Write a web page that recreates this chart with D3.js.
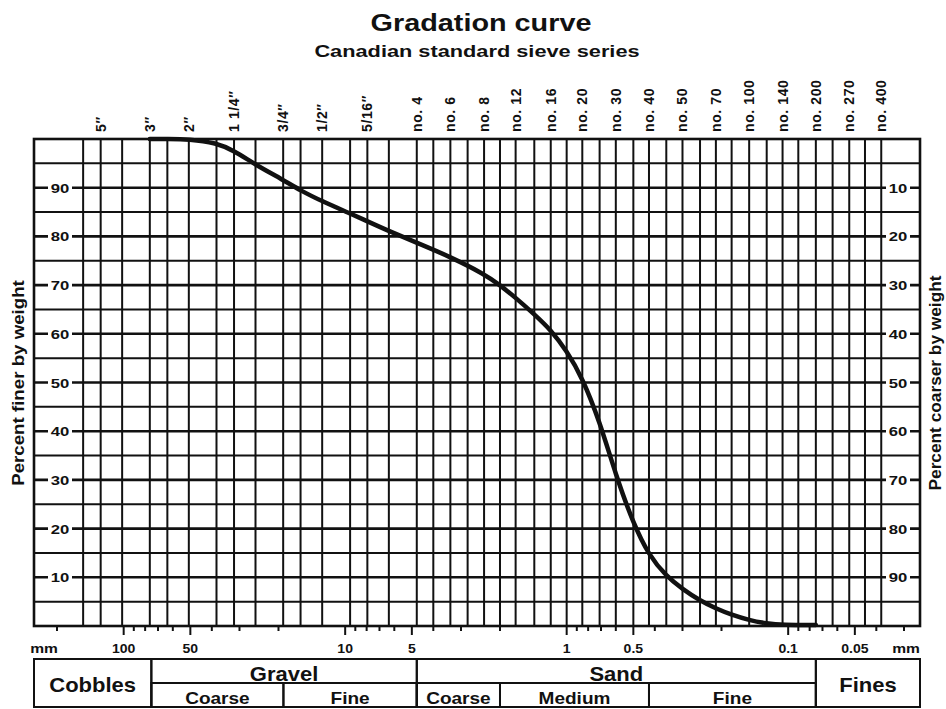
<!DOCTYPE html>
<html>
<head>
<meta charset="utf-8">
<script src="https://cdn.jsdelivr.net/npm/d3@7"></script>
<style>
    body { margin: 0; background: #fff; }
    #chart { width: 946px; height: 709px; }
    text { font-family: "Liberation Sans", Arial, sans-serif; fill: #111; font-weight: bold; }
</style>
</head>
<body>
<div id="chart"></div>
<script>

// every sieve in the series, one vertical grid line each (mm)
let sieveSizes = [152.4, 127, 101.6, 76.2, 63.5, 50.8, 38.1, 31.75, 25.4, 19.05, 15.9, 12.7, 9.5, 7.94, 6.35,
    4.75, 4.0, 3.35, 2.8, 2.36, 2.0, 1.7, 1.4, 1.18, 1.0, 0.85, 0.71, 0.6, 0.5, 0.425, 0.355, 0.3, 0.25,
    0.212, 0.18, 0.15, 0.125, 0.106, 0.09, 0.075, 0.063, 0.053, 0.045, 0.038];

// sieves that get a name on top
let sieveLabels = ['5″', '3″', '2″', '1 1/4″', '3/4″', '1/2″', '5/16″', 'no. 4', 'no. 6', 'no. 8', 'no. 12',
    'no. 16', 'no. 20', 'no. 30', 'no. 40', 'no. 50', 'no. 70', 'no. 100', 'no. 140', 'no. 200', 'no. 270', 'no. 400'];
let sieveLabelSizes = [127, 76.2, 50.8, 31.75, 19.05, 12.7, 7.94, 4.75, 3.35, 2.36, 1.7,
    1.18, 0.85, 0.6, 0.425, 0.3, 0.212, 0.15, 0.106, 0.075, 0.053, 0.038];

// grain size curve (mm, percent finer)
let curveSizes = [76.2, 63.5, 50.8, 38.1, 31.75, 25.4, 19.05, 15.9, 12.7, 9.5, 7.94, 6.35, 4.75, 3.35, 2.36, 2.0,
    1.7, 1.4, 1.18, 1.0, 0.85, 0.71, 0.6, 0.5, 0.425, 0.355, 0.3, 0.25, 0.212, 0.18, 0.15, 0.125, 0.106, 0.075];
let curvePercent = [100, 100, 100, 99.2, 97.6, 94.7, 91.6, 89.4, 87.2, 84.7, 83.1, 81.1, 78.7, 75.8, 72.3, 70,
    67.4, 64, 60.8, 56.5, 51, 42, 31, 21, 14.5, 10.2, 7.6, 5.2, 3.6, 2.3, 1.2, 0.5, 0.2, 0.2];

// axis ticks
let percentTicks = [10, 20, 30, 40, 50, 60, 70, 80, 90];
let mmLabels = [100, 50, 10, 5, 1, 0.5, 0.1, 0.05];

// soil classes under the chart
let mainClasses = ['Cobbles', 'Gravel', 'Sand', 'Fines'];
let mainBounds = [[254, 75], [75, 4.75], [4.75, 0.075], [0.075, 0.0254]];
let subClasses = ['Coarse', 'Fine', 'Coarse', 'Medium', 'Fine'];
let subBounds = [[75, 19], [19, 4.75], [4.75, 2.0], [2.0, 0.425], [0.425, 0.075]];


class GradationChart {

    constructor(parentElement) {
        this.parentElement = parentElement;
        this.initVis();
    }

    initVis() {
        let vis = this;

        vis.width = 946;
        vis.height = 709;
        vis.plot = {left: 34, right: 920, top: 139, bottom: 626};
        vis.ink = '#111';

        // init drawing area
        vis.svg = d3.select('#' + vis.parentElement).append('svg')
            .attr('width', vis.width)
            .attr('height', vis.height);

        // grain size runs big -> small from left to right
        vis.x = d3.scaleLog()
            .domain([254, 0.0254])
            .range([vis.plot.left, vis.plot.right]);

        vis.y = d3.scaleLinear()
            .domain([0, 100])
            .range([vis.plot.bottom, vis.plot.top]);

        vis.drawTitles();
        vis.drawGrid();
        vis.drawCurve();
        vis.drawAxes();
        vis.drawClasses();
    }

    // the printed lettering is wide, so stretch it sideways
    wide(sel, x, y, sx, size) {
        return sel
            .attr('transform', `translate(${x}, ${y}) scale(${sx}, 1)`)
            .attr('text-anchor', 'middle')
            .style('font-size', size + 'px');
    }

    drawTitles() {
        let vis = this;

        vis.wide(vis.svg.append('text'), 481, 31, 1.2, 24)
            .text('Gradation curve');

        vis.wide(vis.svg.append('text'), 477, 57, 1.28, 17)
            .text('Canadian standard sieve series');

        // sieve names, written upwards
        vis.svg.append('g').selectAll('text')
            .data(sieveLabels)
            .enter()
            .append('text')
            .attr('transform', (d, i) => `translate(${vis.x(sieveLabelSizes[i]) + 5}, 132) rotate(-90)`)
            .style('font-size', '14px')
            .style('letter-spacing', '0.6px')
            .text(d => d);

        vis.svg.append('text')
            .attr('transform', `translate(24, 383) rotate(-90) scale(1.1, 1)`)
            .attr('text-anchor', 'middle')
            .style('font-size', '17px')
            .text('Percent finer by weight');

        vis.svg.append('text')
            .attr('transform', `translate(941, 383) rotate(-90) scale(1.08, 1)`)
            .attr('text-anchor', 'middle')
            .style('font-size', '16px')
            .text('Percent coarser by weight');
    }

    drawGrid() {
        let vis = this;

        let grid = vis.svg.append('g').attr('class', 'grid');

        // horizontal lines every 5 percent
        grid.selectAll('line.h')
            .data(d3.range(5, 100, 5))
            .enter()
            .append('line')
            .attr('class', 'h')
            .attr('x1', vis.plot.left).attr('x2', vis.plot.right)
            .attr('y1', d => vis.y(d)).attr('y2', d => vis.y(d))
            .attr('stroke', vis.ink)
            .attr('stroke-width', d => d % 10 === 0 ? 2.6 : 2);

        // one line per sieve
        grid.selectAll('line.v')
            .data(sieveSizes)
            .enter()
            .append('line')
            .attr('class', 'v')
            .attr('x1', d => vis.x(d)).attr('x2', d => vis.x(d))
            .attr('y1', vis.plot.top).attr('y2', vis.plot.bottom)
            .attr('stroke', vis.ink)
            .attr('stroke-width', 2);

        // percent labels sit on the lines
        let labelLeft = vis.svg.append('g');
        let labelRight = vis.svg.append('g');

        [[labelLeft, 60, d => d], [labelRight, 898, d => 100 - d]].forEach(([g, cx, txt]) => {
            g.selectAll('rect')
                .data(percentTicks)
                .enter()
                .append('rect')
                .attr('x', cx - 12).attr('y', d => vis.y(d) - 7)
                .attr('width', 24).attr('height', 14)
                .attr('fill', '#fff');

            g.selectAll('text')
                .data(percentTicks)
                .enter()
                .append('text')
                .each(function (d) {
                    vis.wide(d3.select(this), cx, vis.y(d) + 5, 1.28, 13).text(txt(d));
                });
        });

        vis.svg.append('rect')
            .attr('x', vis.plot.left).attr('y', vis.plot.top)
            .attr('width', vis.plot.right - vis.plot.left)
            .attr('height', vis.plot.bottom - vis.plot.top)
            .attr('fill', 'none')
            .attr('stroke', vis.ink)
            .attr('stroke-width', 2.6);
    }

    drawCurve() {
        let vis = this;

        // b-spline through the sieve readings keeps the hand drawn look
        let line = d3.line()
            .x(d => vis.x(d[0]))
            .y(d => vis.y(d[1]))
            .curve(d3.curveBasis);

        vis.svg.append('path')
            .datum(curveSizes.map((s, i) => [s, curvePercent[i]]))
            .attr('d', line)
            .attr('fill', 'none')
            .attr('stroke', vis.ink)
            .attr('stroke-width', 4.5)
            .attr('stroke-linecap', 'round');
    }

    drawAxes() {
        let vis = this;

        // log ticks under the grid, long ones carry a label
        let minor = vis.x.ticks().filter(d => d <= 200 && d >= 0.03);

        vis.svg.append('g').selectAll('line')
            .data(minor)
            .enter()
            .append('line')
            .attr('x1', d => vis.x(d)).attr('x2', d => vis.x(d))
            .attr('y1', vis.plot.bottom)
            .attr('y2', d => vis.plot.bottom + (mmLabels.includes(+d.toPrecision(3)) ? 9 : 5))
            .attr('stroke', vis.ink)
            .attr('stroke-width', 2);

        vis.svg.append('g').selectAll('text')
            .data(mmLabels)
            .enter()
            .append('text')
            .each(function (d) {
                vis.wide(d3.select(this), vis.x(d), 653, 1.08, 13).text(d);
            });

        [44, 906].forEach(px => {
            vis.wide(vis.svg.append('text'), px, 653, 1.2, 13).text('mm');
        });
    }

    drawClasses() {
        let vis = this;

        let top = 659, mid = 683, bottom = 707;
        let table = vis.svg.append('g').attr('class', 'classes');

        // big cells; gravel and sand are split in two rows
        table.selectAll('rect.main')
            .data(mainClasses)
            .enter()
            .append('rect')
            .attr('class', 'main')
            .attr('x', (d, i) => vis.x(mainBounds[i][0]))
            .attr('y', top)
            .attr('width', (d, i) => vis.x(mainBounds[i][1]) - vis.x(mainBounds[i][0]))
            .attr('height', bottom - top)
            .attr('fill', 'none')
            .attr('stroke', vis.ink)
            .attr('stroke-width', 2);

        table.selectAll('rect.sub')
            .data(subClasses)
            .enter()
            .append('rect')
            .attr('class', 'sub')
            .attr('x', (d, i) => vis.x(subBounds[i][0]))
            .attr('y', mid)
            .attr('width', (d, i) => vis.x(subBounds[i][1]) - vis.x(subBounds[i][0]))
            .attr('height', bottom - mid)
            .attr('fill', 'none')
            .attr('stroke', vis.ink)
            .attr('stroke-width', 2);

        table.selectAll('text.main')
            .data(mainClasses)
            .enter()
            .append('text')
            .attr('class', 'main')
            .each(function (d, i) {
                let cx = (vis.x(mainBounds[i][0]) + vis.x(mainBounds[i][1])) / 2;
                let cy = (d === 'Cobbles' || d === 'Fines') ? 692 : 681;
                vis.wide(d3.select(this), cx, cy, 1.1, 20).text(d);
            });

        table.selectAll('text.sub')
            .data(subClasses)
            .enter()
            .append('text')
            .attr('class', 'sub')
            .each(function (d, i) {
                let cx = (vis.x(subBounds[i][0]) + vis.x(subBounds[i][1])) / 2;
                vis.wide(d3.select(this), cx, 704, 1.12, 17).text(d);
            });
    }
}

let myChart = new GradationChart('chart');

</script>
</body>
</html>
